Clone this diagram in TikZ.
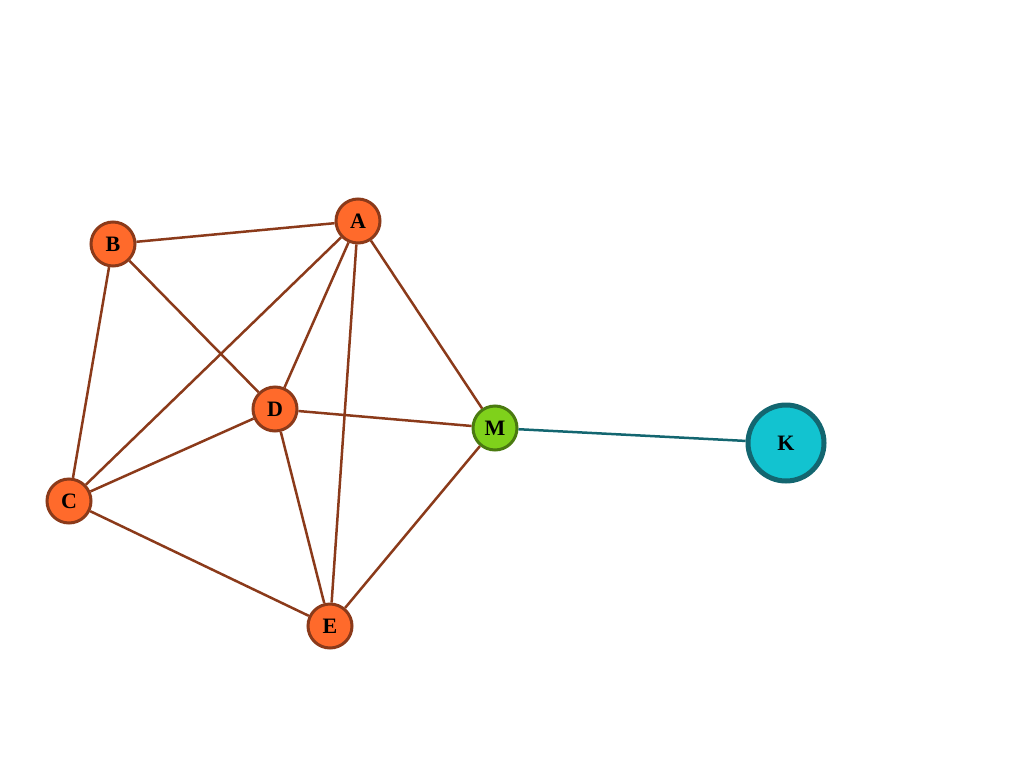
\documentclass[tikz,border=0pt]{standalone}
\usepackage{fontspec}
\setmainfont{Liberation Serif}
\definecolor{vfill}{HTML}{FF6A2B}
\definecolor{vline}{HTML}{8B3A1A}
\definecolor{mfill}{HTML}{7FD11B}
\definecolor{mline}{HTML}{4A7A10}
\definecolor{kfill}{HTML}{12C3D0}
\definecolor{kline}{HTML}{136670}
\begin{document}
\begin{tikzpicture}[x=1pt, y=-1pt]
\tikzset{
    vertex/.style={circle, draw=vline, fill=vfill, line width=3pt, minimum size=44pt, inner sep=0pt, font=\fontsize{22}{22}\selectfont\bfseries},
    hub/.style={vertex, draw=mline, fill=mfill, minimum size=44pt},
    big/.style={vertex, draw=kline, fill=kfill, line width=5pt, minimum size=76pt},
    edge/.style={draw=vline, line width=2.5pt}
}
  \useasboundingbox (0,0) rectangle (1024,768);

  \node[vertex] (A) at (358,221) {A};
  \node[vertex] (B) at (113,244) {B};
  \node[vertex] (C) at (69,501) {C};
  \node[vertex] (D) at (275,409) {D};
  \node[vertex] (E) at (330,626) {E};
  \node[hub] (M) at (495,428) {M};
  \node[big] (K) at (786,443) {K};

  \begin{scope}[on background layer/.style={}]
  \end{scope}
  \foreach \u/\v in {B/A, B/D, B/C, A/C, A/D, A/E, A/M, C/D, C/E, D/M, D/E, E/M}
    \draw[edge] (\u) -- (\v);
  \draw[draw=kline, line width=2.5pt] (M) -- (K);
\end{tikzpicture}
\end{document}
